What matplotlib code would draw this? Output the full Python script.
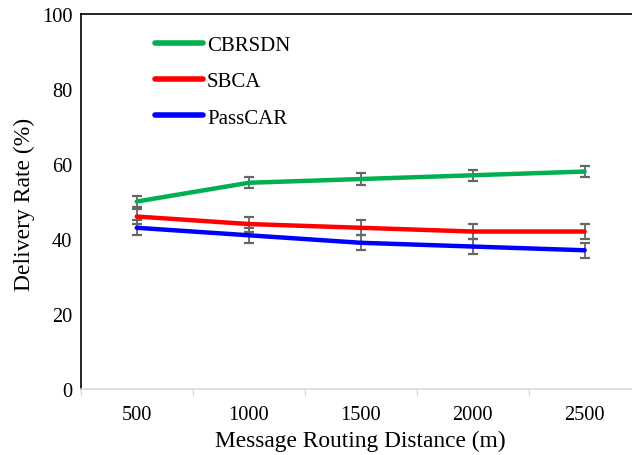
import numpy as np
import matplotlib.pyplot as plt
from matplotlib.lines import Line2D

plt.rcParams['font.family'] = ['Liberation Serif', 'DejaVu Serif']

distances = ['500', '1000', '1500', '2000', '2500']
cbrsdn = [50, 55, 56, 57, 58]
sbca = [46, 44, 43, 42, 42]
passcar = [43, 41, 39, 38, 37]
cbrsdn_err = [1.5, 1.5, 1.5, 1.5, 1.5]
sbca_err = [2, 2, 2, 2, 2]
passcar_err = [2, 2, 2, 2, 2]

fig = plt.figure(figsize=(6.32, 4.56), dpi=100)
# axes runs past the right edge like in the original export
ax = fig.add_axes([0.1277, 0.1447, 0.886, 0.8223])

x = np.arange(len(distances))
series = [
    ('CBRSDN', cbrsdn, cbrsdn_err, '#00B050'),
    ('SBCA', sbca, sbca_err, '#FF0000'),
    ('PassCAR', passcar, passcar_err, '#0000FF'),
]
handles = []
for name, vals, err, col in series:
    ax.errorbar(x, vals, yerr=err, color=col, lw=3.2, ecolor='#666666',
                elinewidth=1.3, capsize=3.7, capthick=1.6,
                solid_capstyle='round', zorder=3)
    handles.append(Line2D([], [], color=col, lw=4, solid_capstyle='round', label=name))

ax.set_xlim(-0.5, len(distances) - 0.5)
ax.set_ylim(0, 100)
ax.set_yticks(range(0, 101, 20))
ax.tick_params(axis='y', length=0, labelsize=14.7, pad=6)

# category ticks between groups, labels centred
ax.set_xticks(np.arange(-0.5, len(distances), 1))
ax.set_xticklabels([])
ax.set_xticks(x, minor=True)
ax.set_xticklabels(distances, minor=True)
ax.tick_params(axis='x', which='major', length=5, color='#d9d9d9', width=1)
ax.tick_params(axis='x', which='minor', length=0, labelsize=14.7, pad=11.5)

ax.spines['right'].set_visible(False)
ax.spines['bottom'].set_color('#d9d9d9')
ax.spines['bottom'].set_linewidth(1.2)
ax.spines['left'].set_linewidth(1.2)
ax.spines['top'].set_linewidth(1.2)

ax.set_xlabel('Message Routing Distance (m)', fontsize=16.8)
ax.xaxis.set_label_coords(0.5, -0.108)
ax.set_ylabel('Delivery Rate (%)', fontsize=17)
ax.yaxis.set_label_coords(-0.082, 0.496)

ax.legend(handles=handles, loc='upper left', bbox_to_anchor=(0.099, 0.993),
          frameon=False, fontsize=15, handlelength=2.3, handletextpad=0.2,
          labelspacing=0.8)

fig.savefig('out.png', dpi=100)
